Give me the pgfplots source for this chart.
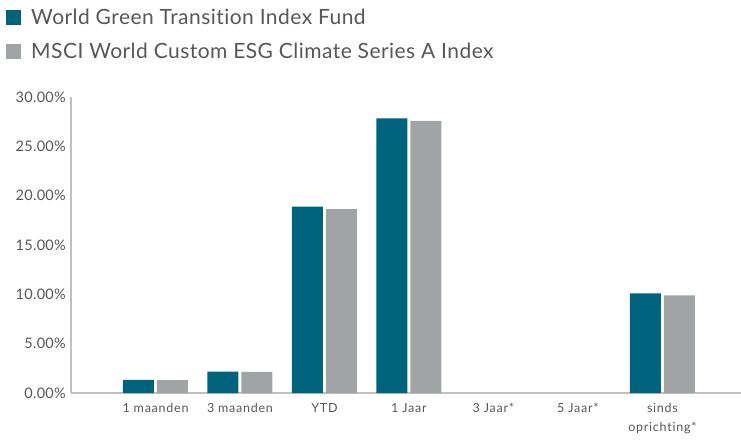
\documentclass[border=0pt]{standalone}
\usepackage{fontspec}
\setmainfont{Lato}[Ligatures=NoCommon]
\newfontfamily\legfont{Lato}[Ligatures=NoCommon, LetterSpace=2.2]
\newfontfamily\catfont{Lato}[Ligatures=NoCommon, LetterSpace=6]
\newfontfamily\tickfont{Lato}[Ligatures=NoCommon, LetterSpace=2]
\usepackage{pgfplots}
\pgfplotsset{compat=1.18}
\definecolor{fund}{HTML}{00637D}
\definecolor{idx}{HTML}{A1A4A5}
\definecolor{txt}{HTML}{575757}
\definecolor{axl}{HTML}{C0C0C0}
\begin{document}
\begin{tikzpicture}
\path[use as bounding box] (0,0) rectangle (741pt,-441pt);
\begin{axis}[
  at={(71pt,-393pt)}, anchor=south west,
  scale only axis, width=670pt, height=296pt,
  xmin=-1, xmax=6.93, ymin=0, ymax=30,
  ybar=3pt, bar width=31pt,
  axis x line*=bottom, axis y line*=left,
  axis line style={axl, line width=1.6pt},
  separate axis lines,
  x axis line style={-}, y axis line style={-},
  major tick length=0pt,
  ytick={0,5,...,30},
  xtick={0,...,6},
  xticklabels={1 maanden,3 maanden,YTD,1 Jaar,3 Jaar*,5 Jaar*,{sinds\\oprichting*}},
  xticklabel style={font=\catfont\fontsize{12.5}{19}\selectfont, text=txt, align=center, inner sep=0pt, anchor=north, yshift=-10pt},
  yticklabel={\pgfmathprintnumber[fixed,fixed zerofill,precision=2]{\tick}\%},
  yticklabel style={font=\tickfont\fontsize{14.5}{16}\selectfont, text=txt, inner sep=0pt, xshift=-5pt},
  /pgf/number format/assume math mode=true,
  legend style={at={(axis description cs:-0.097,1.299)}, anchor=north west, draw=none, fill=none,
    inner sep=0pt, font=\legfont\fontsize{21}{23}\selectfont, text=txt, row sep=17pt,
    nodes={inner sep=0pt},
    /tikz/every odd column/.append style={column sep=10pt}},
  legend cell align=left,
  legend image code/.code={\fill[#1] (0pt,-7.5pt) rectangle (15pt,7.5pt);},
  clip=false,
]
\addplot[fill=fund, draw=none] coordinates {(0,1.32) (1,2.16) (2,18.88) (3,27.83) (6,10.10)};
\addplot[fill=idx, draw=none] coordinates {(0,1.30) (1,2.15) (2,18.64) (3,27.59) (6,9.90)};
\legend{World Green Transition Index Fund, MSCI World Custom ESG Climate Series A Index}
\end{axis}
\end{tikzpicture}
\end{document}
